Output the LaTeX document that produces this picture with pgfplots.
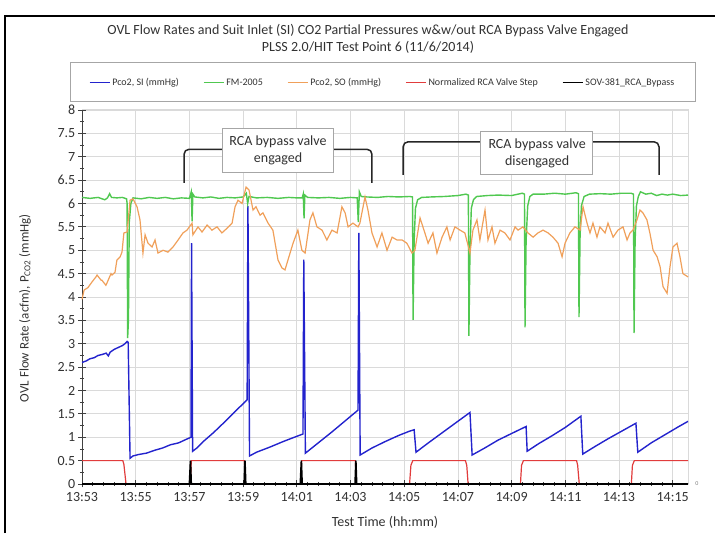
\documentclass[border=0pt]{standalone}
\usepackage{pgfplots}
\pgfplotsset{compat=1.18}
\usepackage{fontspec}
\setmainfont{Carlito}
\definecolor{cBlue}{RGB}{35,35,205}
\definecolor{cGreen}{RGB}{80,200,80}
\definecolor{cOrange}{RGB}{240,160,90}
\definecolor{cRed}{RGB}{225,60,60}
\definecolor{cGrid}{RGB}{218,218,218}
\definecolor{cText}{RGB}{50,50,50}
\begin{document}
\begin{tikzpicture}
\path[use as bounding box] (0,0) rectangle (715pt,533pt);
\draw[line width=2pt] (5pt,0) -- (5pt,517pt) -- (715pt,517pt);
\node[align=center, text=cText, font=\fontsize{14}{17}\selectfont] at (368pt,494.5pt)
  {OVL Flow Rates and Suit Inlet (SI) CO2 Partial Pressures w\&w/out RCA Bypass Valve Engaged\\PLSS 2.0/HIT Test Point 6 (11/6/2014)};
\draw[gray!70, line width=1pt] (70pt,431pt) rectangle (695pt,470pt);
\begin{axis}[
  at={(82pt,49pt)}, anchor=south west,
  scale only axis, width=606pt, height=374pt,
  xmin=0, xmax=22.57, ymin=0, ymax=8,
  clip=false,
  axis x line*=bottom, axis y line*=left,
  axis line style={black!75, line width=1pt},
  xtick={0,2,...,22},
  xticklabels={13:53,13:55,13:57,13:59,14:01,14:03,14:05,14:07,14:09,14:11,14:13,14:15},
  minor x tick num=4,
  ytick={0,0.5,...,8},
  minor y tick num=1,
  tick align=center,
  major tick length=7pt, minor tick length=4pt,
  tick style={black!75, line width=0.8pt},
  grid=major,
  major grid style={cGrid, line width=0.8pt},
  tick label style={font=\fontsize{14}{16}\selectfont, text=cText},
  xticklabel style={yshift=-3.5pt, inner sep=1pt},
  yticklabel style={inner sep=1pt, xshift=-2pt},
  /pgf/number format/assume math mode=true,
  xlabel={Test Time (hh:mm)},
  ylabel={OVL Flow Rate (acfm), P\textsubscript{CO2} (mmHg)},
  xlabel style={font=\fontsize{14}{16}\selectfont, text=cText, at={(axis description cs:0.5,-0.1016)}, anchor=center},
  ylabel style={font=\fontsize{13}{15}\selectfont, text=cText, at={(axis description cs:-0.094,0.47)}, anchor=center},
  legend columns=5,
  legend style={at={(axis description cs:0.4959,1.0735)}, anchor=center, draw=none, fill=none,
    font=\fontsize{10}{12}\selectfont, text=cText,
    /tikz/every even column/.append style={column sep=22pt}},
  legend image code/.code={\draw[#1, line width=1.5pt] (0pt,0pt) -- (20pt,0pt);},
]
\draw[cGrid, line width=1pt] (rel axis cs:0,1) -- (rel axis cs:1,1) -- (rel axis cs:1,0);
% Pco2, SI
\addplot[cBlue, line width=1.4pt] coordinates {
(0,2.6) (0.15,2.63) (0.3,2.68) (0.45,2.7) (0.6,2.75) (0.75,2.77) (0.9,2.8) (0.98,2.74) (1.05,2.82) (1.2,2.88) (1.35,2.92) (1.5,2.96) (1.6,3.0) (1.68,3.05) (1.72,3.03) (1.79,0.55)
(1.9,0.6) (2.1,0.63) (2.4,0.66) (2.7,0.72) (3.0,0.77) (3.3,0.84) (3.6,0.88) (3.9,0.96) (4.06,1.0) (4.08,5.15) (4.12,0.7)
(4.3,0.78) (4.5,0.9) (4.9,1.1) (5.3,1.32) (5.7,1.55) (6.15,1.8) (6.18,5.95) (6.24,0.6)
(6.5,0.68) (7.0,0.79) (7.5,0.91) (8.0,1.02) (8.23,1.07) (8.26,4.8) (8.32,0.66)
(8.8,0.88) (9.3,1.11) (9.8,1.35) (10.28,1.58) (10.31,5.37) (10.36,0.62)
(10.8,0.77) (11.3,0.91) (11.8,1.04) (12.2,1.13) (12.37,1.16) (12.44,0.68)
(12.9,0.88) (13.4,1.09) (13.9,1.3) (14.45,1.53) (14.53,0.62)
(15.0,0.77) (15.5,0.94) (16.0,1.08) (16.54,1.23) (16.58,0.7)
(17.0,0.86) (17.5,1.03) (18.0,1.21) (18.58,1.45) (18.65,0.64)
(19.1,0.8) (19.6,0.97) (20.1,1.13) (20.63,1.3) (20.7,0.68)
(21.2,0.88) (21.7,1.05) (22.2,1.22) (22.57,1.34)
};
\addlegendentry{Pco2, SI (mmHg)}
% FM-2005
\addplot[cGreen, line width=1.4pt] coordinates {
(0,6.13) (0.3,6.11) (0.6,6.13) (0.85,6.08) (0.95,6.12) (1.03,6.21) (1.1,6.13) (1.3,6.12) (1.5,6.13) (1.66,6.1) (1.68,6.0) (1.70,3.12) (1.73,3.5) (1.76,5.6) (1.82,6.0) (1.9,6.12)
(2.2,6.1) (2.5,6.13) (2.8,6.11) (3.1,6.13) (3.4,6.1) (3.7,6.12) (4.0,6.11) (4.07,6.25) (4.10,5.62) (4.13,6.2) (4.2,6.14)
(4.5,6.12) (4.8,6.14) (5.1,6.11) (5.4,6.13) (5.7,6.12) (6.0,6.14) (6.12,6.22) (6.17,6.0) (6.22,6.15)
(6.5,6.12) (6.9,6.13) (7.3,6.11) (7.7,6.13) (8.0,6.12) (8.2,6.12) (8.24,6.2) (8.27,5.68) (8.30,6.18) (8.4,6.13)
(8.8,6.12) (9.2,6.13) (9.6,6.11) (10.0,6.13) (10.25,6.12) (10.29,5.6) (10.33,6.25) (10.4,6.15)
(10.6,6.14) (11.0,6.13) (11.4,6.15) (11.8,6.14) (12.2,6.15) (12.31,6.14) (12.33,3.51) (12.37,5.2) (12.42,5.9) (12.5,6.08) (12.65,6.13)
(13.0,6.14) (13.5,6.15) (14.0,6.17) (14.3,6.2) (14.39,6.18) (14.41,3.17) (14.45,5.0) (14.5,5.9) (14.58,6.08) (14.7,6.15)
(15.1,6.17) (15.5,6.18) (16.0,6.17) (16.4,6.22) (16.48,6.2) (16.50,3.35) (16.54,5.2) (16.6,5.95) (16.68,6.15)
(16.8,6.2) (17.2,6.2) (17.6,6.22) (18.0,6.2) (18.4,6.23) (18.49,6.21) (18.51,3.57) (18.55,5.3) (18.6,5.95) (18.7,6.15)
(18.9,6.2) (19.3,6.21) (19.7,6.2) (20.1,6.22) (20.45,6.22) (20.54,6.2) (20.56,3.23) (20.6,5.2) (20.65,5.95) (20.72,6.15)
(20.8,6.25) (21.0,6.2) (21.2,6.22) (21.4,6.17) (21.6,6.2) (21.8,6.18) (22.0,6.2) (22.3,6.17) (22.57,6.18)
};
\addlegendentry{FM-2005}
% Pco2, SO
\addplot[cOrange, line width=1.2pt] coordinates {
(0,3.95) (0.08,4.15) (0.22,4.2) (0.37,4.32) (0.52,4.43) (0.56,4.47) (0.71,4.36) (0.74,4.36) (0.89,4.25) (0.93,4.3) (1.08,4.5) (1.12,4.47) (1.23,4.53) (1.30,4.79) (1.42,4.86) (1.49,4.96) (1.56,5.37) (1.68,5.39)
(1.79,6.07) (1.90,6.1) (2.05,5.93) (2.16,5.65) (2.27,4.94) (2.35,5.33) (2.46,5.15) (2.61,5.07) (2.72,5.22) (2.83,4.94) (3.02,5.0) (3.20,4.96) (3.39,5.07) (3.58,5.22) (3.76,5.37) (3.91,5.43)
(4.10,5.58) (4.13,5.33) (4.32,5.5) (4.47,5.39) (4.66,5.54) (4.84,5.43) (5.03,5.5) (5.21,5.37) (5.40,5.47) (5.59,5.58) (5.70,5.93) (5.81,6.07) (5.96,6.0) (6.11,6.35) (6.22,6.29)
(6.37,5.86) (6.48,5.93) (6.63,5.75) (6.74,5.8) (6.93,5.58) (7.11,5.43) (7.30,4.79) (7.45,4.62) (7.56,4.58) (7.67,4.79) (7.86,5.15) (8.04,5.43) (8.19,5.0) (8.31,4.94)
(8.49,5.65) (8.60,5.8) (8.75,5.5) (8.94,5.43) (9.12,5.22) (9.31,5.43) (9.50,5.37) (9.68,5.93) (9.80,5.8) (9.91,5.5) (10.09,5.58) (10.28,5.5) (10.35,5.58)
(10.54,6.14) (10.65,5.86) (10.80,5.37) (10.99,5.07) (11.17,5.37) (11.36,5.0) (11.55,5.28) (11.73,5.22) (11.92,5.22) (12.10,5.15) (12.29,4.94) (12.40,5.0)
(12.59,5.69) (12.77,5.37) (12.89,5.15) (13.07,5.37) (13.22,4.94) (13.41,5.28) (13.59,5.5) (13.71,5.22) (13.89,5.5) (14.08,5.43) (14.26,5.37) (14.45,4.94)
(14.56,5.43) (14.71,5.65) (14.82,5.22) (15.01,5.86) (15.12,5.22) (15.27,5.5) (15.38,5.15) (15.57,5.43) (15.75,5.37) (15.94,5.22) (16.13,5.5) (16.24,5.43)
(16.42,5.5) (16.61,5.37) (16.80,5.28) (16.98,5.37) (17.17,5.43) (17.36,5.37) (17.54,5.28) (17.73,5.15) (17.88,4.86) (17.99,5.15) (18.17,5.37) (18.36,5.5) (18.55,5.43)
(18.66,5.93) (18.81,5.58) (18.92,5.37) (19.03,5.58) (19.18,5.28) (19.29,5.5) (19.48,5.37) (19.59,5.58) (19.78,5.28) (19.96,5.43) (20.15,5.5) (20.30,5.22) (20.41,5.37) (20.52,5.43)
(20.67,5.65) (20.78,5.86) (20.89,5.8) (21.04,5.65) (21.15,5.37) (21.27,5.0) (21.42,4.86) (21.53,4.65) (21.64,4.22) (21.79,4.08) (21.90,4.65) (22.01,5.07) (22.16,5.15) (22.27,4.86) (22.38,4.5) (22.57,4.43)
};
\addlegendentry{Pco2, SO (mmHg)}
% Normalized RCA Valve Step
\addplot[cRed, line width=1.2pt] coordinates {
(0,0.5) (1.52,0.5) (1.56,0.42) (1.64,0) (4.04,0) (4.07,0.5) (6.05,0.5) (6.08,0) (8.15,0) (8.18,0.5) (10.18,0.5) (10.22,0)
(12.2,0) (12.25,0.4) (12.32,0.5) (14.28,0.5) (14.33,0.4) (14.38,0) (16.33,0) (16.37,0.4) (16.44,0.5) (18.42,0.5) (18.46,0.4) (18.52,0)
(20.46,0) (20.5,0.4) (20.57,0.5) (22.57,0.5)
};
\addlegendentry{Normalized RCA Valve Step}
% SOV-381_RCA_Bypass
\addplot[black, line width=1.6pt] coordinates {
(0,0) (4.0,0) (4.04,0.5) (4.07,0) (6.04,0) (6.07,0.5) (6.1,0) (8.13,0) (8.17,0.5) (8.2,0) (10.17,0) (10.2,0.5) (10.23,0) (22.57,0)
};
\addlegendentry{SOV-381\_RCA\_Bypass}
% annotations
\draw[black!85, line width=1.5pt, rounded corners=5pt] (axis cs:3.80,6.44) -- (axis cs:3.80,7.16) -- (axis cs:5.25,7.16);
\draw[black!85, line width=1.5pt, rounded corners=5pt] (axis cs:9.35,7.16) -- (axis cs:10.80,7.16) -- (axis cs:10.80,6.44);
\draw[gray!70, fill=white, line width=1pt] (axis cs:5.25,6.67) rectangle (axis cs:9.35,7.61);
\node[align=center, text=cText, font=\fontsize{14}{17}\selectfont] at (axis cs:7.30,7.14) {RCA bypass valve\\engaged};
\draw[black!85, line width=1.5pt, rounded corners=5pt] (axis cs:11.96,6.61) -- (axis cs:11.96,7.32) -- (axis cs:14.86,7.32);
\draw[black!85, line width=1.5pt, rounded corners=5pt] (axis cs:19.03,7.32) -- (axis cs:21.49,7.32) -- (axis cs:21.49,6.61);
\draw[gray!70, fill=white, line width=1pt] (axis cs:14.86,6.61) rectangle (axis cs:19.03,7.55);
\node[align=center, text=cText, font=\fontsize{14}{17}\selectfont] at (axis cs:16.95,7.08) {RCA bypass valve\\disengaged};
\node[text=gray, font=\fontsize{6}{7}\selectfont] at ([xshift=9pt]rel axis cs:1,0) {0};
\end{axis}
\end{tikzpicture}
\end{document}
